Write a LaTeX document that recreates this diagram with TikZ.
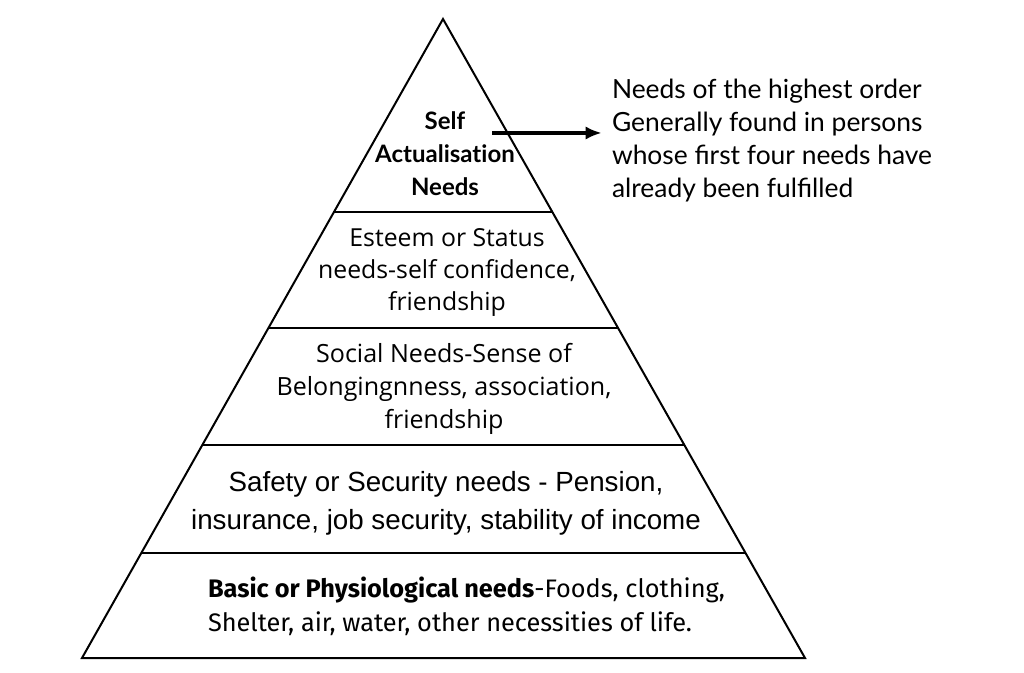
\documentclass[tikz,border=0pt]{standalone}
\usepackage{fontspec}
\setmainfont{Lato}
\newfontfamily\latoplain[Ligatures=NoCommon]{Lato}
\newfontfamily\arialfont{Liberation Sans}
\newfontfamily\opensans{Open Sans}
\newfontfamily\firasans{Fira Sans}
\usetikzlibrary{arrows.meta,calc}

\begin{document}
\begin{tikzpicture}[x=0.75pt, y=-0.75pt,
                    every path/.style={line width=1.5pt},
                    level/.style={align=center, inner sep=0pt, font=\opensans\fontsize{18.6}{24}\selectfont},
                    note/.style={align=left, inner sep=0pt, anchor=north west, font=\fontsize{19.8}{24.75}\selectfont}]

  \useasboundingbox (0,0) rectangle (1024,673);

  % === Pyramid outline ===
  \coordinate (T) at (443,19);
  \coordinate (L) at (82,658);
  \coordinate (R) at (805,658);
  \draw (T) -- (L) -- (R) -- cycle;

  % level dividers
  \foreach \t [count=\i] in {0.302, 0.484, 0.667, 0.836} {
    \draw ($(T)!\t!(L)$) -- ($(T)!\t!(R)$);
  }

  % === Level texts ===
  \node[level, font=\latoplain\bfseries\fontsize{18}{24.75}\selectfont] (self) at (445,154) {Self\\Actualisation\\Needs};
  \node[level] (esteem) at (447,273) {Esteem or Status\\needs-self confidence,\\friendship};
  \node[level, font=\opensans\fontsize{18.8}{24.75}\selectfont] (social) at (444,389) {Social Needs-Sense of\\Belongingnness, association,\\friendship};
  \node[level, font=\arialfont\fontsize{20.8}{28.5}\selectfont] (safety) at (446,503) {Safety or Security needs - Pension,\\insurance, job security, stability of income};
  \node[level, align=left, anchor=west, font=\firasans\fontsize{19}{25.5}\selectfont] (basic) at (207,606)
    {\textbf{Basic or Physiological needs}-Foods, clothing,\\Shelter, air, water, other necessities of life.};

  % === Note (Right) ===
  \node[note] (remark) at (611,78) {Needs of the highest order\\Generally found in persons\\whose first four needs have\\already been fulfilled};

  \coordinate (tail) at (492,133);
  \coordinate (tip) at (remark.west |- tail);
  \draw[-{Latex[length=12pt,width=10pt]}, line width=2.6pt] (tail) -- ([xshift=-7pt]tip);

\end{tikzpicture}
\end{document}
